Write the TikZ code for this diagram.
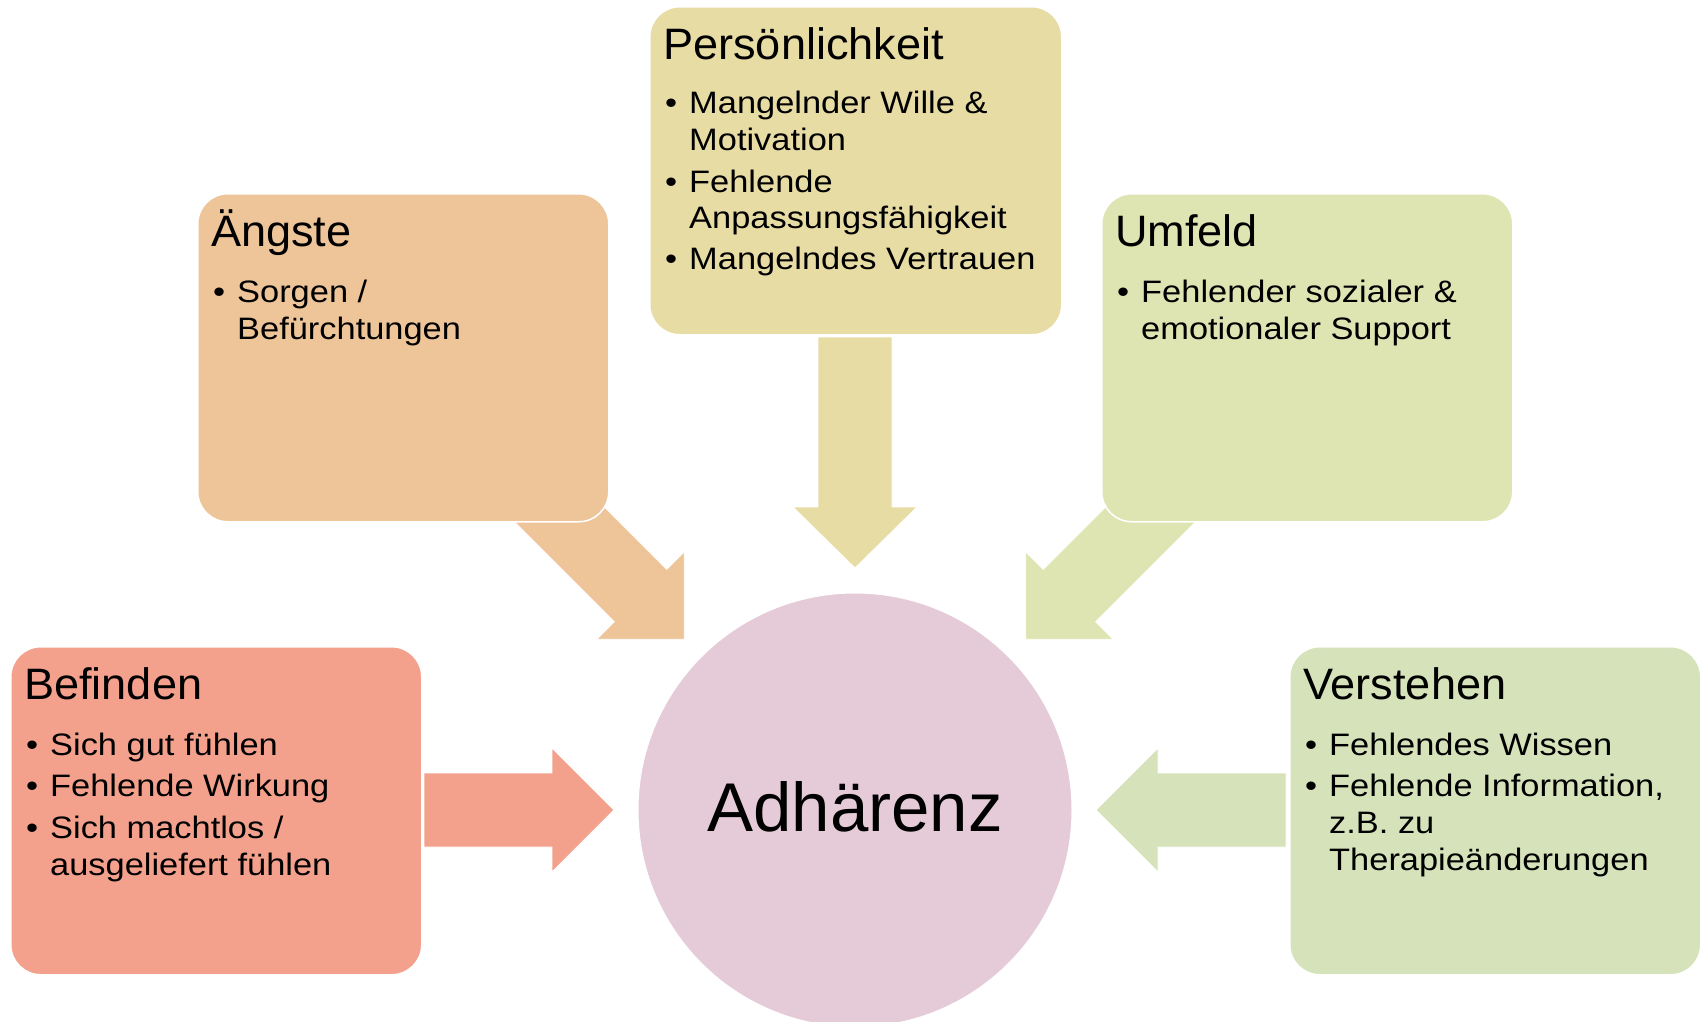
\documentclass[tikz,border=0pt]{standalone}
\usepackage{fontspec}
\setmainfont{Liberation Sans}
\newfontfamily\titlefont[FakeStretch=1.025]{Liberation Sans}
\newfontfamily\itemfont[FakeStretch=1.11]{Liberation Sans}
\definecolor{persfill}{HTML}{E8DCA5}
\definecolor{angfill}{HTML}{EEC599}
\definecolor{umffill}{HTML}{DFE5B2}
\definecolor{beffill}{HTML}{F3A18C}
\definecolor{verfill}{HTML}{D5E2BA}
\definecolor{circfill}{HTML}{E5CBD7}
\begin{document}
\begin{tikzpicture}[x=1pt,y=-1pt,
  factorbox/.style={draw=white,line width=1.5pt,rounded corners=30pt,minimum width=411pt,minimum height=328pt,inner sep=0pt,anchor=north west},
  ttl/.style={anchor=base west,inner sep=0pt,font=\titlefont\fontsize{44}{44}\selectfont},
  itm/.style={anchor=base west,inner sep=0pt,font=\itemfont\fontsize{31}{37}\selectfont},
  blt/.style={anchor=base west,inner sep=0pt,font=\itemfont\fontsize{31}{37}\selectfont},
  blockarrow/.style={draw=white,line width=0.8pt}]
\useasboundingbox[fill=white] (0,0) rectangle (1703,1021);

% block arrows
\fill[persfill,blockarrow] (818,337) -- (892,337) -- (892,507) -- (917,507) -- (855,568) -- (793,507) -- (818,507) -- cycle;
\fill[beffill,blockarrow] (424,773) -- (552,773) -- (552,748) -- (614,810) -- (552,872) -- (552,847) -- (424,847) -- cycle;
\fill[verfill,blockarrow] (1286,773) -- (1158,773) -- (1158,748) -- (1096,810) -- (1158,872) -- (1158,847) -- (1286,847) -- cycle;
\fill[angfill,blockarrow] (546.9,449.5) -- (666.7,569.3) -- (684.3,551.7) -- (684.3,639.3) -- (596.7,639.3) -- (614.3,621.7) -- (494.5,501.9) -- cycle;
\fill[umffill,blockarrow] (1163.1,449.5) -- (1043.3,569.3) -- (1025.7,551.7) -- (1025.7,639.3) -- (1113.3,639.3) -- (1095.7,621.7) -- (1215.5,501.9) -- cycle;

% boxes
\node[factorbox,fill=persfill,minimum width=412pt] (pers) at (649,6) {};
\node[factorbox,fill=angfill] (ang) at (197,193) {};
\node[factorbox,fill=umffill] (umf) at (1101,193) {};
\node[factorbox,fill=beffill] (bef) at (10,646) {};
\node[factorbox,fill=verfill] (ver) at (1289,646) {};

% centre circle
\node[circle,fill=circfill,draw=white,line width=1pt,minimum size=434pt,inner sep=0pt] (adh) at (855,810) {};
\node[anchor=base,inner sep=0pt,font=\fontsize{69}{69}\selectfont] (adhtext) at (855,831) {Adhärenz};

% Persönlichkeit
\node[ttl] (perst) at (663,59) {Persönlichkeit};
\node[blt] (persb1) at (665,113) {•};
\node[itm] (pers1) at (689,113) {Mangelnder Wille \&};
\node[itm] (pers2) at (689,150) {Motivation};
\node[blt] (persb2) at (665,192) {•};
\node[itm] (pers3) at (689,192) {Fehlende};
\node[itm] (pers4) at (689,228) {Anpassungsfähigkeit};
\node[blt] (persb3) at (665,269) {•};
\node[itm] (pers5) at (689,269) {Mangelndes Vertrauen};

% Ängste
\node[ttl] (angt) at (211,246) {Ängste};
\node[blt] (angb1) at (213,302) {•};
\node[itm] (ang1) at (237,302) {Sorgen /};
\node[itm] (ang2) at (237,339) {Befürchtungen};

% Umfeld
\node[ttl] (umft) at (1115,246) {Umfeld};
\node[blt] (umfb1) at (1117,302) {•};
\node[itm] (umf1) at (1141,302) {Fehlender sozialer \&};
\node[itm] (umf2) at (1141,339) {emotionaler Support};

% Befinden
\node[ttl] (beft) at (24,699) {Befinden};
\node[blt] (befb1) at (26,755) {•};
\node[itm] (bef1) at (50,755) {Sich gut fühlen};
\node[blt] (befb2) at (26,796) {•};
\node[itm] (bef2) at (50,796) {Fehlende Wirkung};
\node[blt] (befb3) at (26,838) {•};
\node[itm] (bef3) at (50,838) {Sich machtlos /};
\node[itm] (bef4) at (50,875) {ausgeliefert fühlen};

% Verstehen
\node[ttl] (vert) at (1303,699) {Verstehen};
\node[blt] (verb1) at (1305,755) {•};
\node[itm] (ver1) at (1329,755) {Fehlendes Wissen};
\node[blt] (verb2) at (1305,796) {•};
\node[itm] (ver2) at (1329,796) {Fehlende Information,};
\node[itm] (ver3) at (1329,833) {z.B. zu};
\node[itm] (ver4) at (1329,870) {Therapieänderungen};
\end{tikzpicture}
\end{document}
